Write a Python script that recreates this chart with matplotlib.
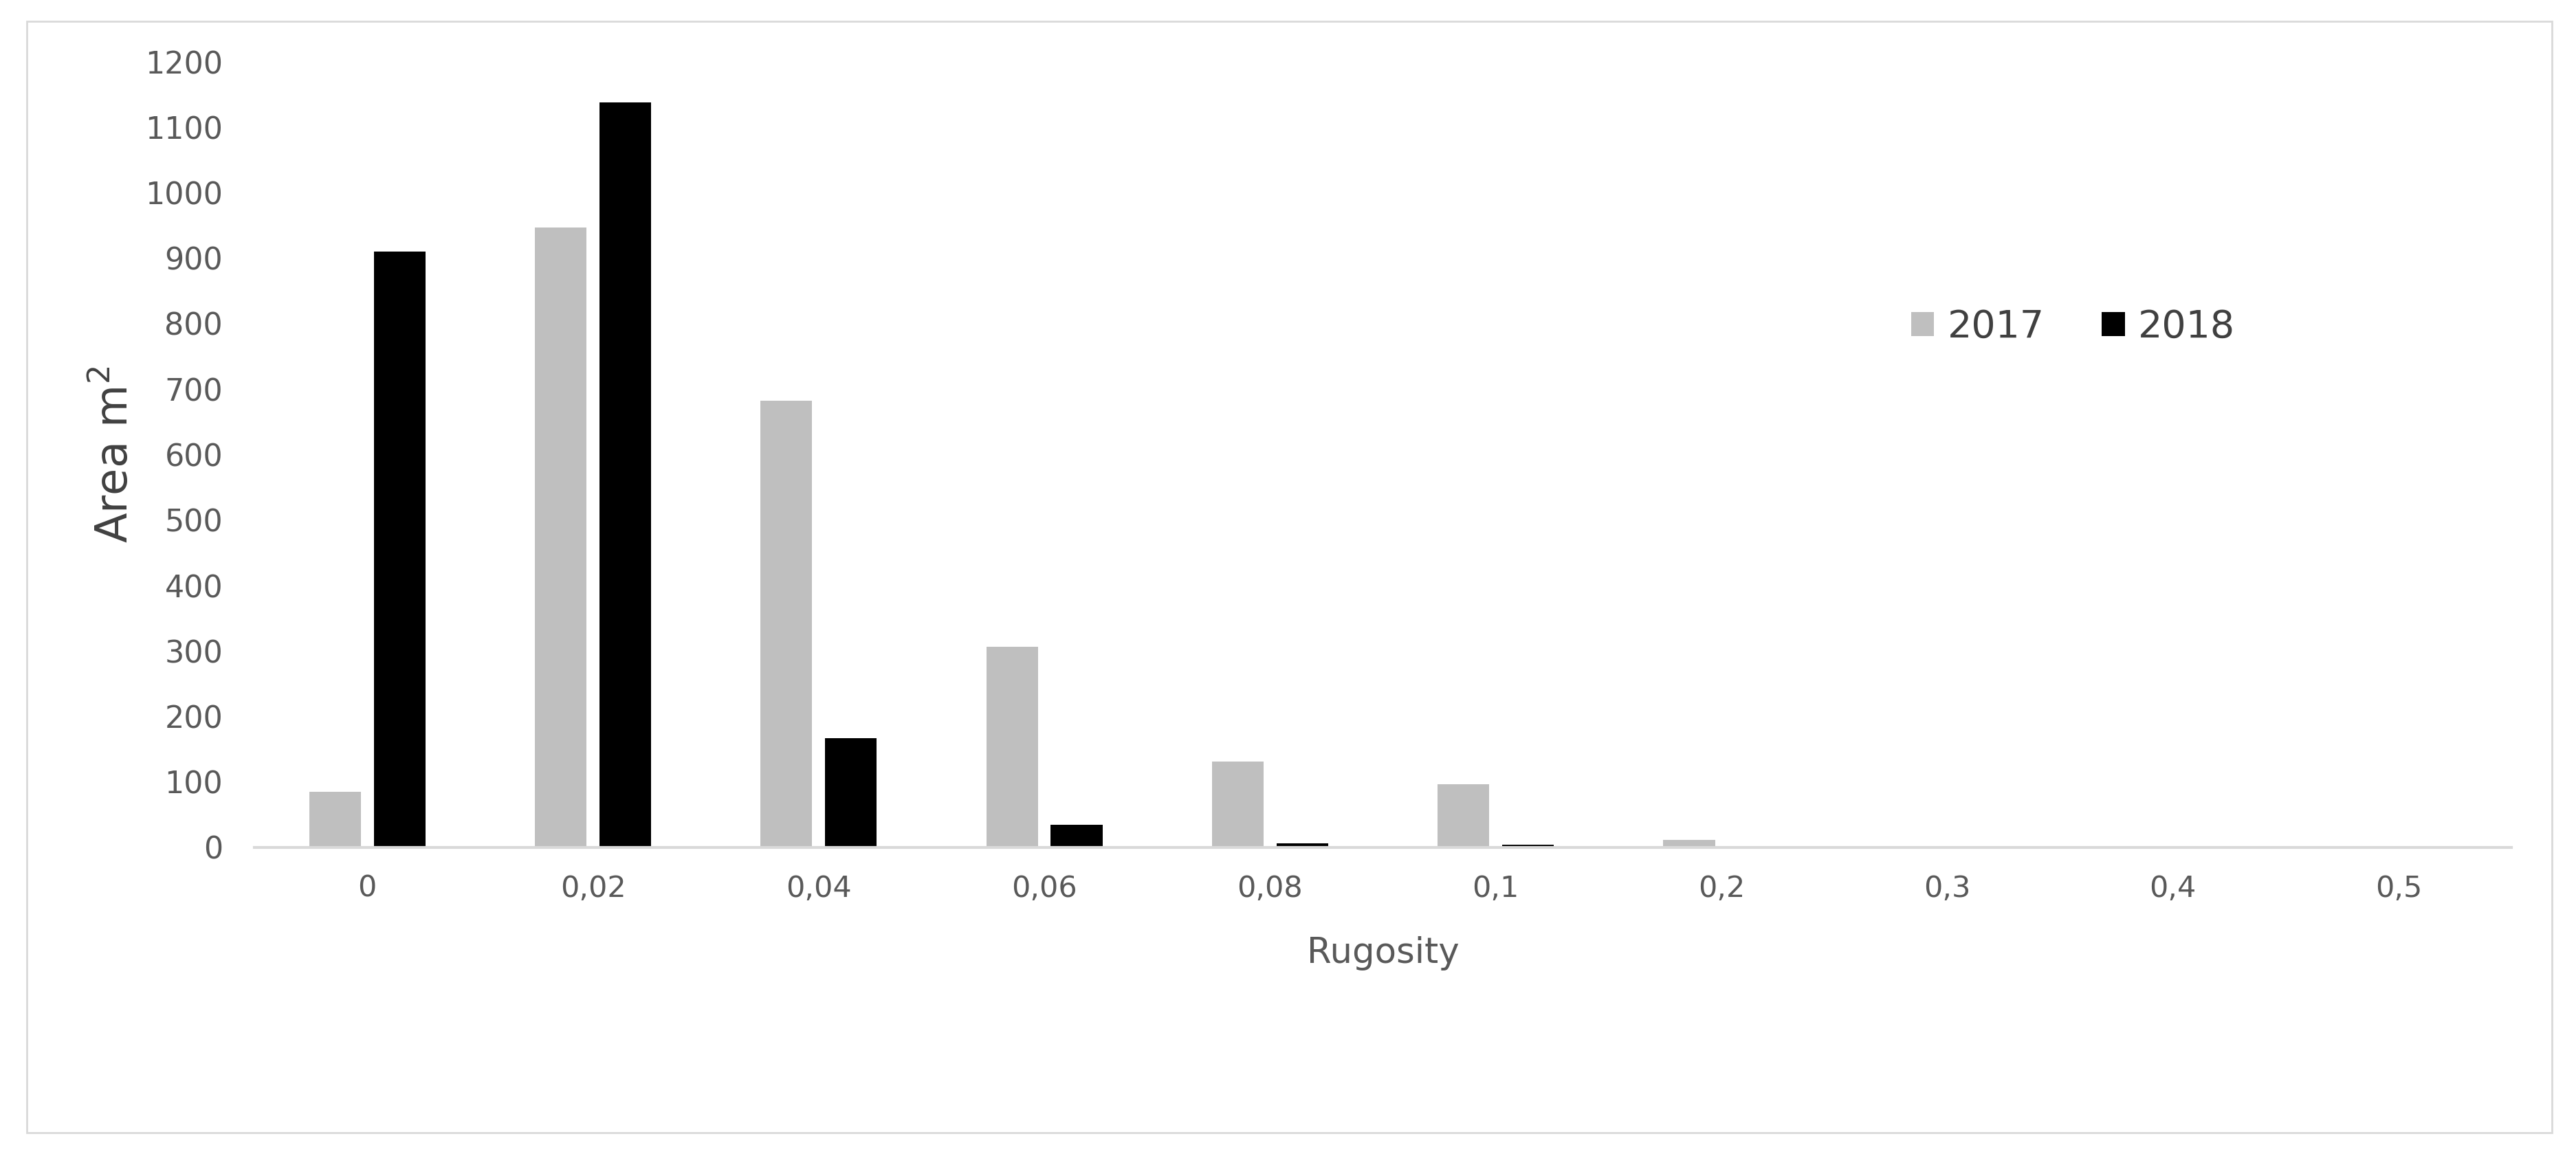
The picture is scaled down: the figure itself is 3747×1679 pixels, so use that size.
import numpy as np
import matplotlib
matplotlib.use("Agg")
import matplotlib.pyplot as plt
from matplotlib.patches import Rectangle

# Data
rugosity = ['0', '0,02', '0,04', '0,06', '0,08', '0,1', '0,2', '0,3', '0,4', '0,5']
area_2017 = [85, 947, 682, 307, 131, 97, 12, 0, 0, 0]
area_2018 = [910, 1138, 167, 35, 6, 4, 0, 0, 0, 0]
years = ['2017', '2018']
y_ticks = list(range(0, 1201, 100))

col_2017 = '#bfbfbf'
col_2018 = '#000000'
text_col = '#595959'

W, H = 3748, 1679
fig = plt.figure(figsize=(W / 100, H / 100), dpi=100)
fig.patch.set_facecolor('white')

ax = fig.add_axes([370 / W, 1 - 1233 / H, 3283 / W, 1143 / H])

x = np.arange(len(rugosity))
bw = 0.229
off = 0.143
ax.bar(x - off, area_2017, bw, color=col_2017, label=years[0])
ax.bar(x + off, area_2018, bw, color=col_2018, label=years[1])

ax.set_xlim(-0.5, len(rugosity) - 0.5)
ax.set_ylim(0, 1200)
ax.set_yticks(y_ticks)
ax.set_yticklabels([str(v) for v in y_ticks])
ax.set_xticks(x)
ax.set_xticklabels(rugosity)

for s in ['top', 'right', 'left']:
    ax.spines[s].set_visible(False)
ax.spines['bottom'].set_color('#d9d9d9')
ax.spines['bottom'].set_linewidth(3)

ax.tick_params(axis='y', length=0, pad=33, labelsize=32, labelcolor=text_col)
ax.tick_params(axis='x', length=0, pad=28, labelsize=31, labelcolor=text_col)

ax.set_xlabel('Rugosity', fontsize=37, color=text_col)
ax.xaxis.set_label_coords(0.5, -0.113)
ax.set_ylabel('Area m$^2$', fontsize=46, color='#404040')
ax.yaxis.set_label_coords(-0.052, 0.5)

leg = fig.legend(loc='center left', bbox_to_anchor=(2780 / W, 1 - 476 / H),
                 ncol=2, frameon=False, fontsize=40, handlelength=0.6,
                 handleheight=0.6, handletextpad=0.35, columnspacing=1.5,
                 borderpad=0, borderaxespad=0)
for t in leg.get_texts():
    t.set_color('#404040')

# light outer frame of the chart area
fig.patches.append(Rectangle((39 / W, 1 - 1648 / H), (3712 - 39) / W, (1648 - 31) / H,
                             transform=fig.transFigure, fill=False,
                             edgecolor='#d9d9d9', linewidth=2))

fig.savefig('out.png', dpi=100)
